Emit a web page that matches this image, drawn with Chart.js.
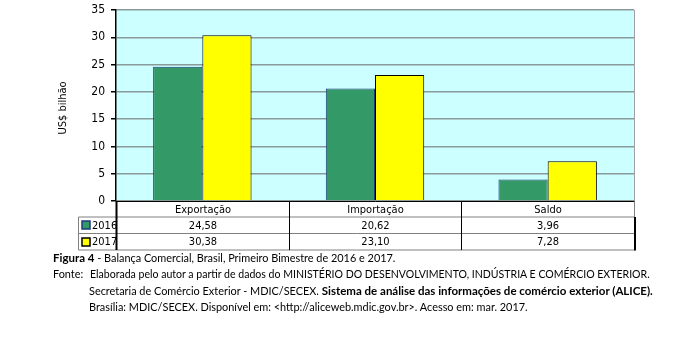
<!DOCTYPE html>
<html>
<head>
<meta charset="utf-8">
<script src="https://cdn.jsdelivr.net/npm/chart.js@4/dist/chart.umd.min.js"></script>
<style>
html,body{margin:0;padding:0;background:#fff;width:679px;height:337px;overflow:hidden;}
#wrap{position:absolute;left:0;top:0;width:679px;height:252px;}
.cap{position:absolute;font-family:Lato,"DejaVu Sans Condensed",sans-serif;font-size:10.9px;color:#000;white-space:nowrap;line-height:13px;}
.cap b{font-size:11.5px;}
</style>
</head>
<body>
<div id="wrap"><canvas id="c" width="679" height="252"></canvas></div>
<div class="cap" style="left:53px;top:251px;"><b>Figura 4</b> - Balança Comercial, Brasil, Primeiro Bimestre de 2016 e 2017.</div>
<div class="cap" style="left:53px;top:267px;">Fonte:</div>
<div class="cap" style="left:90px;top:267.5px;font-size:10.55px;">Elaborada pelo autor a partir de dados do MINISTÉRIO DO DESENVOLVIMENTO, INDÚSTRIA E COMÉRCIO EXTERIOR.</div>
<div class="cap" style="left:89px;top:284px;">Secretaria de Comércio Exterior - MDIC/SECEX. <b>Sistema de análise das informações de comércio exterior (ALICE).</b></div>
<div class="cap" style="left:89px;top:300px;">Brasília: MDIC/SECEX. Disponível em: &lt;http://aliceweb.mdic.gov.br&gt;. Acesso em: mar. 2017.</div>
<script>
const categories = ["Exportação", "Importação", "Saldo"];
const seriesNames = ["2016", "2017"];
const values2016 = [24.58, 20.62, 3.96];
const values2017 = [30.38, 23.10, 7.28];
const yTicks = [0, 5, 10, 15, 20, 25, 30, 35];
const yTitle = "US$ bilhão";

const FONT = '"DejaVu Sans Condensed","DejaVu Sans",sans-serif';
const colors = ["#339966", "#FFFF00"];
const borders = ["#1F3A7A", "#000000"];

const fmt = v => v.toFixed(2).replace('.', ',');

const bgPlugin = {
  id: 'bg',
  beforeDraw(chart) {
    const {ctx, chartArea: a} = chart;
    ctx.save();
    ctx.fillStyle = '#CCFFFF';
    ctx.fillRect(a.left, a.top, a.right - a.left, a.bottom - a.top);
    ctx.restore();
  },
  afterDraw(chart) {
    const {ctx, chartArea: a} = chart;
    const xs = chart.scales.x;
    ctx.save();
    ctx.strokeStyle = '#A0A0A0';
    ctx.lineWidth = 1;
    ctx.beginPath();
    ctx.moveTo(a.right + 0.5, a.top);
    ctx.lineTo(a.right + 0.5, a.bottom);
    ctx.stroke();

    ctx.save();
    ctx.translate(63, 108);
    ctx.rotate(-Math.PI / 2);
    ctx.font = '11px ' + FONT;
    ctx.fillStyle = '#000';
    ctx.textAlign = 'center';
    ctx.textBaseline = 'middle';
    ctx.fillText(yTitle, 0, 0);
    ctx.restore();

    const top = Math.round(a.bottom) + 0.5;
    const rowH = [15.5, 16.5, 16.5];
    const y1 = top + rowH[0];
    const y2 = y1 + rowH[1];
    const y3 = y2 + rowH[2];
    const legLeft = 78.5;
    const n = categories.length;
    const cw = (a.right - a.left) / n;
    const bounds = [];
    for (let i = 0; i <= n; i++) {
      const px = i < n ? xs.getPixelForValue(i) - cw / 2 : xs.getPixelForValue(n - 1) + cw / 2;
      bounds.push(Math.round(px) + 0.5);
    }
    ctx.strokeStyle = '#808080';
    ctx.lineWidth = 1;
    ctx.beginPath();
    ctx.moveTo(bounds[0], y1); ctx.lineTo(bounds[n], y1);
    ctx.moveTo(legLeft, y1); ctx.lineTo(bounds[0], y1);
    ctx.moveTo(legLeft, y2); ctx.lineTo(bounds[n], y2);
    ctx.moveTo(legLeft, y3); ctx.lineTo(bounds[n], y3);
    ctx.moveTo(legLeft, y1); ctx.lineTo(legLeft, y3);
    ctx.moveTo(bounds[n], top); ctx.lineTo(bounds[n], y1);
    ctx.stroke();
    ctx.strokeStyle = '#000';
    ctx.beginPath();
    ctx.moveTo(bounds[0], top); ctx.lineTo(bounds[n], top);
    for (let i = 1; i < n; i++) { ctx.moveTo(bounds[i], top); ctx.lineTo(bounds[i], y3); }
    ctx.stroke();
    ctx.lineWidth = 2;
    ctx.beginPath();
    ctx.moveTo(bounds[0], top - 0.5); ctx.lineTo(bounds[0], y3);
    ctx.moveTo(bounds[n] + 0.5, y1); ctx.lineTo(bounds[n] + 0.5, y3 + 0.5);
    ctx.stroke();

    ctx.fillStyle = '#000';
    ctx.font = '11px ' + FONT;
    ctx.textBaseline = 'middle';
    ctx.textAlign = 'center';
    const rowsVals = [values2016, values2017];
    for (let i = 0; i < n; i++) {
      const cx = (bounds[i] + bounds[i + 1]) / 2;
      ctx.fillText(categories[i], cx, top + rowH[0] / 2 + 1);
      ctx.fillText(fmt(rowsVals[0][i]), cx, y1 + rowH[1] / 2 + 0.5);
      ctx.fillText(fmt(rowsVals[1][i]), cx, y2 + rowH[2] / 2 + 0.5);
    }
    ctx.textAlign = 'left';
    const rowTops = [y1, y2];
    for (let s = 0; s < 2; s++) {
      const cy = rowTops[s] + rowH[s + 1] / 2;
      ctx.fillStyle = colors[s];
      ctx.fillRect(82, Math.round(cy - 4), 8, 8);
      ctx.strokeStyle = borders[s];
      ctx.lineWidth = 1.5;
      ctx.strokeRect(82, Math.round(cy - 4), 8, 8);
      ctx.fillStyle = '#000';
      ctx.fillText(seriesNames[s], 92, cy + 0.5);
    }
    ctx.restore();
  }
};

new Chart(document.getElementById('c'), {
  type: 'bar',
  data: {
    labels: categories,
    datasets: [
      {label: seriesNames[0], data: values2016, backgroundColor: colors[0], borderColor: borders[0], borderWidth: 1},
      {label: seriesNames[1], data: values2017, backgroundColor: colors[1], borderColor: borders[1], borderWidth: 1}
    ]
  },
  options: {
    responsive: false,
    animation: false,
    devicePixelRatio: 1,
    layout: {padding: {top: 10, right: 45, bottom: 51, left: 0}},
    datasets: {bar: {barPercentage: 1, categoryPercentage: 0.57}},
    plugins: {legend: {display: false}, tooltip: {enabled: false}},
    scales: {
      x: {display: false},
      y: {
        min: 0, max: 35,
        afterBuildTicks: s => { s.ticks = yTicks.map(v => ({value: v})); },
        afterFit: s => { s.width = 116; s.paddingTop = 0; s.paddingBottom = 0; },
        ticks: {color: '#000', font: {family: FONT, size: 12}, padding: 6},
        grid: {color: '#8A9A9A', lineWidth: 1.5, tickColor: '#000', tickLength: 5},
        border: {color: '#000', width: 1.5},
        title: {display: false}
      }
    }
  },
  plugins: [bgPlugin]
});
</script>
</body>
</html>
